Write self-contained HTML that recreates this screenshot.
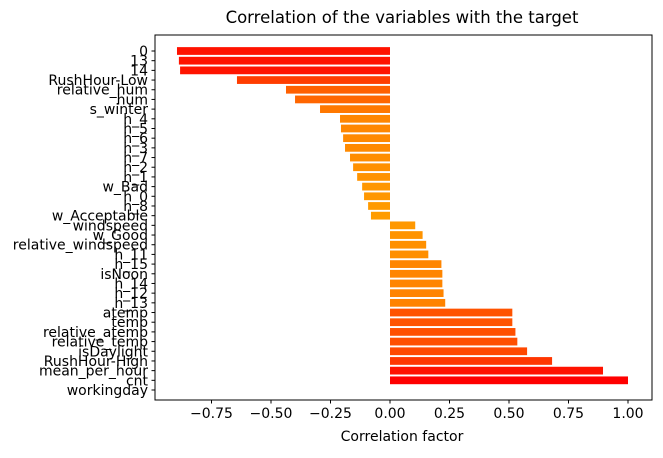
<!DOCTYPE html>
<html><head><meta charset="utf-8"><style>
body{margin:0;background:#fff}
svg{font-family:"DejaVu Sans","Liberation Sans",sans-serif}
</style></head><body>
<svg id="chart" width="663" height="453">
<text x="402" y="23" font-size="16.5" text-anchor="middle">Correlation of the variables with the target</text>
<g id="bars"></g><g id="yt"></g><g id="xt"></g>
<rect x="155" y="35" width="497" height="365" fill="none" stroke="#000" stroke-width="1"/>
<text x="402" y="441" font-size="14" text-anchor="middle">Correlation factor</text>
</svg>
<script>
const categories=["0","13","14","RushHour-Low","relative_hum","hum","s_winter","h_4","h_5","h_6","h_3","h_7","h_2","h_1","w_Bad","h_0","h_8","w_Acceptable","windspeed","w_Good","relative_windspeed","h_11","h_15","isNoon","h_14","h_12","h_13","atemp","temp","relative_atemp","relative_temp","isDaylight","RushHour-High","mean_per_hour","cnt","workingday"];
const values=[-0.895,-0.887,-0.882,-0.643,-0.437,-0.399,-0.294,-0.21,-0.206,-0.197,-0.189,-0.168,-0.155,-0.138,-0.117,-0.109,-0.092,-0.08,0.106,0.137,0.152,0.161,0.216,0.22,0.22,0.225,0.232,0.514,0.514,0.527,0.535,0.576,0.681,0.895,1.0,null];
const xTicks=[-0.75,-0.5,-0.25,0,0.25,0.5,0.75,1.0];
const xTickLabels=["−0.75","−0.50","−0.25","0.00","0.25","0.50","0.75","1.00"];
const NS="http://www.w3.org/2000/svg";
const x=v=>390+v*238;
const y=i=>51+i*9.686;
const bars=document.getElementById('bars'),yt=document.getElementById('yt'),xt=document.getElementById('xt');
function mk(t,a,p){const e=document.createElementNS(NS,t);for(const k in a)e.setAttribute(k,a[k]);p.appendChild(e);return e;}
categories.forEach((c,i)=>{
  const v=values[i];
  if(v!==null){
    const g=Math.round(170*(1-Math.abs(v)));
    const r=mk('rect',{x:Math.min(x(0),x(v)),y:y(i)-0.4*9.686,width:Math.abs(x(v)-x(0)),height:0.8*9.686,fill:`rgb(255,${g},0)`},bars);
    
    
  }
  const tk=mk('line',{x1:151.5,x2:155,y1:y(i),y2:y(i),stroke:'#000'},yt);
  
  
  const t=mk('text',{x:148,y:y(i)+5,'font-size':14,'text-anchor':'end'},yt);
  t.textContent=c;
  
  
});
xTicks.forEach((v,i)=>{
  const tk=mk('line',{x1:x(v),x2:x(v),y1:400,y2:403.5,stroke:'#000'},xt);
  
  
  const t=mk('text',{x:x(v),y:418,'font-size':14,'text-anchor':'middle'},xt);
  t.textContent=xTickLabels[i];
  
  
});
</script>
</body></html>
